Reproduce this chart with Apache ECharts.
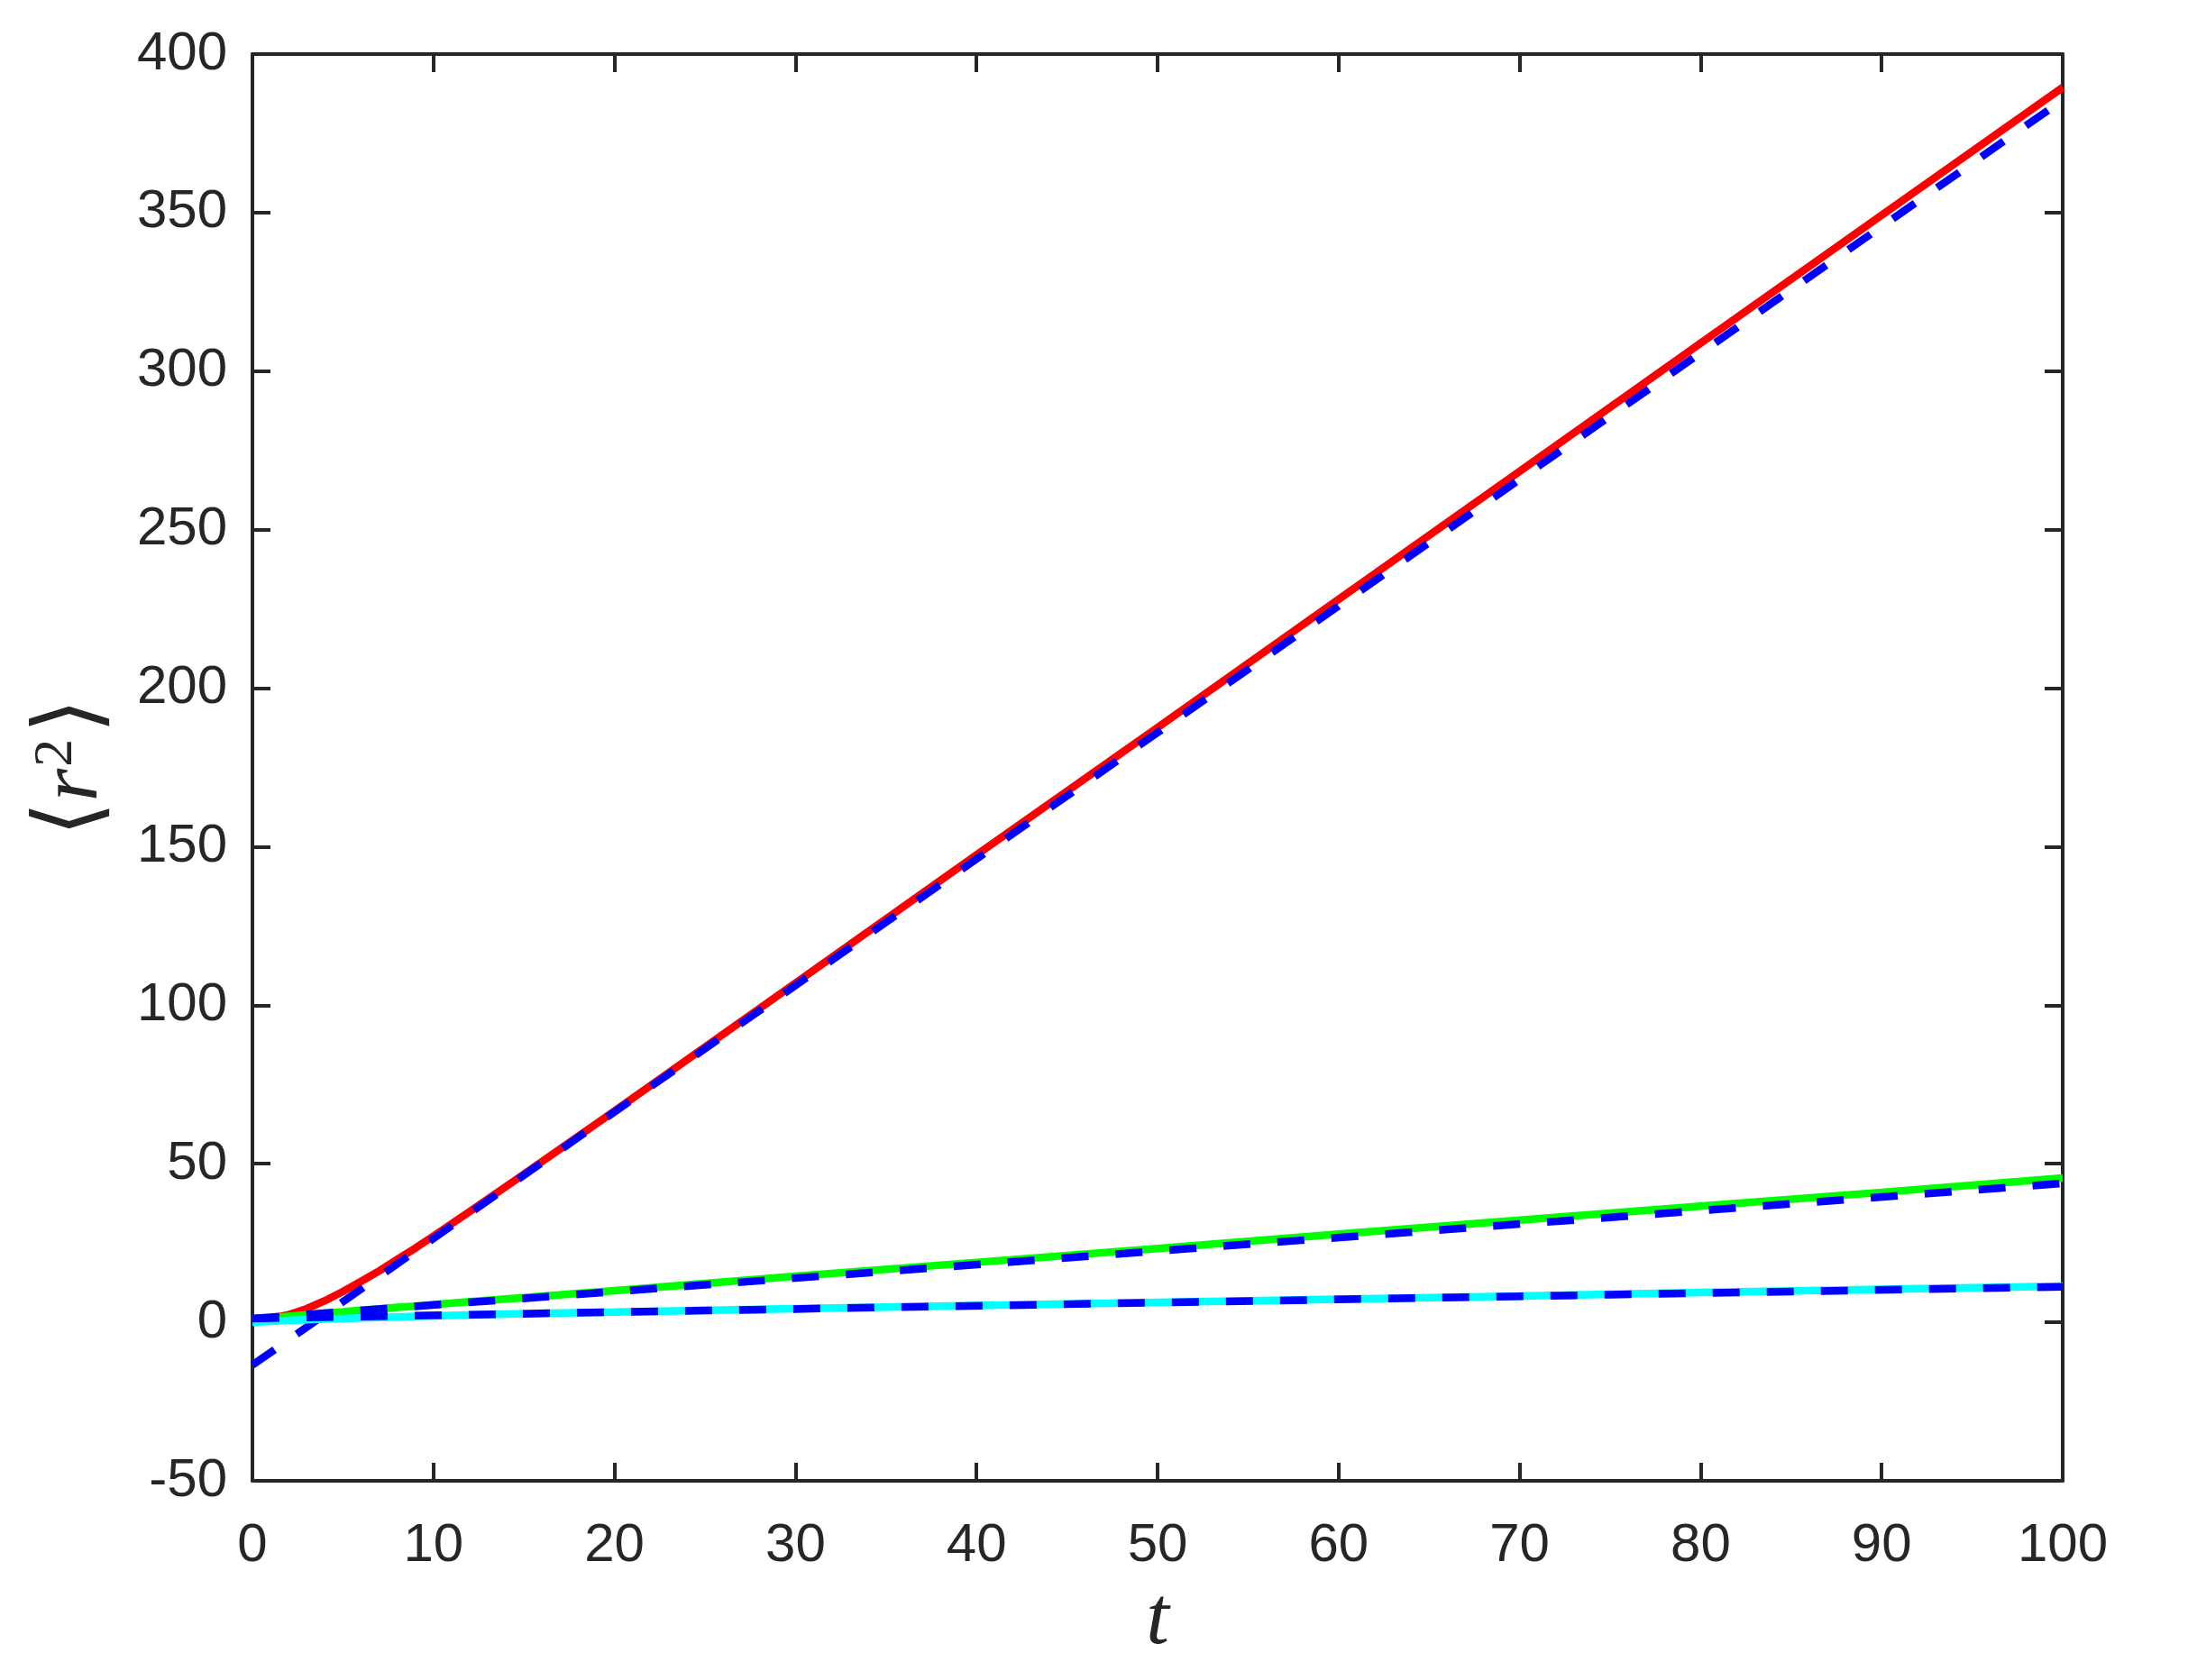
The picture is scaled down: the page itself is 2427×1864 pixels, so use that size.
<!DOCTYPE html>
<html>
<head>
<meta charset="utf-8">
<script src="https://cdn.jsdelivr.net/npm/echarts@6/dist/echarts.min.js"></script>
<style>
  html, body { margin: 0; padding: 0; background: #fff; }
  #chart { width: 2427px; height: 1864px; }
</style>
</head>
<body>
<div id="chart"></div>
<script>
// times for the measured curves
const tData = [0, 1, 2, 3, 4, 5, 6, 7, 8, 9, 10, 12, 15, 20, 30, 40, 50, 60, 70, 80, 90, 100];
const redData = [1.0, 1.2, 2.4, 4.3, 6.8, 9.7, 12.9, 16.2, 19.8, 23.4, 27.2, 34.9, 46.7, 66.6, 107.0, 147.4, 187.6, 228.0, 268.4, 308.8, 349.2, 389.5];
const greenData = [1.0, 1.4, 1.9, 2.4, 2.9, 3.3, 3.8, 4.2, 4.7, 5.1, 5.6, 6.5, 7.8, 10.0, 14.5, 18.9, 23.3, 27.8, 32.2, 36.6, 41.0, 45.5];
const cyanData = [0.0, 0.3, 0.6, 0.8, 1.0, 1.2, 1.4, 1.55, 1.7, 1.85, 2.0, 2.3, 2.7, 3.2, 4.3, 5.3, 6.3, 7.3, 8.3, 9.4, 10.4, 11.4];

// times for the dashed fit lines
const tFit = [0, 25, 50, 75, 100];
const redFit = [-13.5, 86.3, 186.0, 285.8, 385.5];
const greenFit = [1.2, 11.8, 22.5, 33.1, 43.8];
const cyanFit = [1.2, 3.7, 6.2, 8.7, 11.2];

const xTicks = [0, 10, 20, 30, 40, 50, 60, 70, 80, 90, 100];
const yTicks = [-50, 0, 50, 100, 150, 200, 250, 300, 350, 400];

const axisColor = '#262626';

function pairs(xs, ys) {
  return xs.map((x, i) => [x, ys[i]]);
}

function solid(data, color) {
  return {
    type: 'line', data: data, showSymbol: false, symbol: 'none',
    lineStyle: { color: color, width: 8.5, type: 'solid' },
    itemStyle: { color: color }
  };
}

function dashed(data) {
  return {
    type: 'line', data: data, showSymbol: false, symbol: 'none',
    lineStyle: { color: '#0000ff', width: 8.5, type: [30, 30], cap: 'butt' },
    itemStyle: { color: '#0000ff' }
  };
}

let chart = echarts.init(document.getElementById('chart'));

let baseX = {
  type: 'value', min: xTicks[0], max: xTicks[xTicks.length - 1], interval: 10,
  axisLine: { show: true, onZero: false, lineStyle: { color: axisColor, width: 4 } },
  axisTick: { show: true, inside: true, length: 20, lineStyle: { color: axisColor, width: 4 } },
  splitLine: { show: false }
};
let baseY = {
  type: 'value', min: yTicks[0], max: yTicks[yTicks.length - 1], interval: 50,
  axisLine: { show: true, onZero: false, lineStyle: { color: axisColor, width: 4 } },
  axisTick: { show: true, inside: true, length: 20, lineStyle: { color: axisColor, width: 4 } },
  splitLine: { show: false }
};

let option = {
  animation: false,
  backgroundColor: '#ffffff',
  grid: { left: 280, top: 60, right: 139, bottom: 221, containLabel: false },
  xAxis: [
    Object.assign({}, baseX, {
      position: 'bottom',
      axisLabel: { show: true, margin: 42, color: axisColor, fontSize: 60, fontFamily: 'Liberation Sans' },
      name: 't',
      nameLocation: 'middle',
      nameGap: 110,
      nameTextStyle: { fontFamily: 'Liberation Serif', fontStyle: 'italic', fontSize: 92, color: axisColor }
    }),
    Object.assign({}, baseX, { position: 'top', axisLabel: { show: false } })
  ],
  yAxis: [
    Object.assign({}, baseY, {
      position: 'left',
      axisLabel: { show: true, margin: 28, color: axisColor, fontSize: 60, fontFamily: 'Liberation Sans' },
      name: '{b|⟨}{i|r}{s|2}{b|⟩}',
      nameLocation: 'middle',
      nameRotate: 90,
      nameGap: 148,
      nameTextStyle: {
        color: axisColor,
        rich: {
          b: { fontFamily: 'DejaVu Sans', fontWeight: 'normal', fontSize: 100, color: axisColor },
          i: { fontFamily: 'Liberation Serif', fontStyle: 'italic', fontSize: 94, color: axisColor },
          s: { fontFamily: 'Liberation Serif', fontSize: 62, color: axisColor, verticalAlign: 'top', padding: [0, 6, 0, 2] }
        }
      }
    }),
    Object.assign({}, baseY, { position: 'right', axisLabel: { show: false } })
  ],
  series: [
    solid(pairs(tData, redData), '#ff0000'),
    dashed(pairs(tFit, redFit)),
    solid(pairs(tData, greenData), '#00ff00'),
    dashed(pairs(tFit, greenFit)),
    solid(pairs(tData, cyanData), '#00ffff'),
    dashed(pairs(tFit, cyanFit))
  ]
};

option && chart.setOption(option);
window.addEventListener('resize', function () {
  chart.resize();
});
</script>
</body>
</html>
